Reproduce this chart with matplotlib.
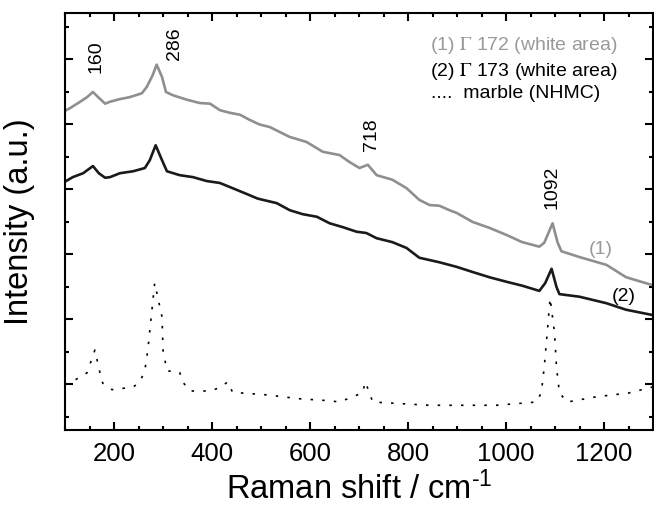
import matplotlib
matplotlib.use("Agg")
import matplotlib.pyplot as plt
from matplotlib.ticker import MultipleLocator

plt.rcParams["font.family"] = ["Liberation Sans", "DejaVu Sans"]
plt.rcParams["mathtext.fontset"] = "custom"
plt.rcParams["mathtext.rm"] = "Liberation Sans"
plt.rcParams["mathtext.it"] = "Liberation Sans:italic"

# (1) G172 white area - gray
wn1 = [100, 110, 131, 145, 157, 169, 182, 192, 212, 232, 257, 267, 279, 287, 298,
       306, 320, 349, 375, 396, 416, 436, 457, 477, 497, 518, 558, 593, 626, 660,
       681, 701, 718, 736, 768, 797, 823, 844, 864, 885, 899, 932, 966, 1001, 1033,
       1068, 1078, 1095, 1105, 1113, 1150, 1205, 1245, 1298]
int1 = [5.21, 5.25, 5.35, 5.42, 5.50, 5.41, 5.32, 5.35, 5.39, 5.42, 5.48, 5.58, 5.76,
        5.92, 5.73, 5.50, 5.45, 5.38, 5.33, 5.32, 5.22, 5.18, 5.15, 5.07, 5.00, 4.96,
        4.81, 4.73, 4.58, 4.53, 4.42, 4.33, 4.38, 4.22, 4.15, 4.02, 3.84, 3.76, 3.75,
        3.68, 3.64, 3.50, 3.41, 3.30, 3.19, 3.12, 3.18, 3.48, 3.19, 3.05, 2.96, 2.84,
        2.65, 2.53]

# (2) G173 white area - black
wn2 = [100, 116, 137, 157, 169, 182, 192, 212, 239, 263, 273, 285, 298, 308, 334,
       361, 389, 416, 442, 471, 493, 504, 532, 559, 585, 614, 640, 667, 695, 715,
       736, 768, 797, 823, 864, 899, 932, 966, 1001, 1033, 1068, 1080, 1093, 1103,
       1109, 1150, 1205, 1245, 1298]
int2 = [4.12, 4.19, 4.25, 4.36, 4.25, 4.18, 4.19, 4.25, 4.28, 4.33, 4.45, 4.68, 4.45,
        4.28, 4.22, 4.19, 4.13, 4.10, 4.02, 3.93, 3.86, 3.84, 3.79, 3.68, 3.62, 3.58,
        3.48, 3.42, 3.35, 3.33, 3.25, 3.19, 3.10, 2.95, 2.88, 2.81, 2.73, 2.65, 2.58,
        2.52, 2.44, 2.56, 2.78, 2.50, 2.39, 2.35, 2.25, 2.15, 2.07]

# marble (NHMC) - dotted
wn3 = [100, 114, 145, 161, 171, 177, 196, 239, 253, 263, 269, 283, 298, 300, 308, 334,
       340, 355, 395, 416, 432, 442, 512, 579, 640, 660, 707, 713, 728, 844, 980, 1062,
       1072, 1078, 1084, 1090, 1099, 1103, 1109, 1125, 1184, 1251, 1298]
int3 = [1.00, 1.04, 1.18, 1.53, 1.19, 1.02, 0.92, 0.96, 1.04, 1.22, 1.53, 2.56, 2.04,
        1.53, 1.21, 1.19, 1.04, 0.90, 0.90, 0.95, 1.04, 0.88, 0.84, 0.78, 0.75, 0.73,
        0.87, 1.04, 0.73, 0.68, 0.68, 0.73, 0.87, 1.27, 1.79, 2.33, 1.79, 1.27, 0.87,
        0.73, 0.81, 0.87, 0.96]

peak_labels = ["160", "286", "718", "1092"]
peak_x = [163, 324, 726, 1093]
peak_y = [6.04, 6.24, 4.84, 4.04]

gray = "#8f8f8f"

fig = plt.figure(figsize=(6.54, 5.07), dpi=100)
ax = fig.add_axes([0.0994, 0.1519, 0.8991, 0.8225])

ax.plot(wn1, int1, color=gray, lw=1.9)
ax.plot(wn2, int2, color="#1a1a1a", lw=1.9)
ax.plot(wn3, int3, color="black", lw=1.2, linestyle=(0, (1.5, 5.5)))

for lab, x, y in zip(peak_labels, peak_x, peak_y):
    ax.text(x, y, lab, rotation=90, ha="center", va="center", fontsize=14)

ax.text(844, 6.22, r"(1) $\Gamma$ 172 (white area)", color="#9a9a9a", fontsize=14,
        va="center", math_fontfamily="stix")
ax.text(844, 5.82, r"(2) $\Gamma$ 173 (white area)", color="black", fontsize=14,
        va="center", math_fontfamily="stix")
ax.text(846, 5.47, "....  marble (NHMC)", color="black", fontsize=14, va="center")

ax.text(1194, 3.07, "(1)", color="#9a9a9a", fontsize=14, ha="center", va="center")
ax.text(1241, 2.35, "(2)", color="black", fontsize=14, ha="center", va="center")

ax.set_xlim(100, 1300)
ax.set_ylim(0.3, 6.715)
ax.xaxis.set_major_locator(MultipleLocator(200))
ax.xaxis.set_minor_locator(MultipleLocator(50))
ax.yaxis.set_major_locator(MultipleLocator(1))
ax.yaxis.set_minor_locator(MultipleLocator(0.5))
ax.tick_params(which="both", direction="in", top=True, right=True, width=1.5)
ax.tick_params(which="major", length=6)
ax.tick_params(which="minor", length=3)
ax.tick_params(axis="x", labelsize=18.5, pad=9)
ax.tick_params(axis="y", labelleft=False)
for s in ax.spines.values():
    s.set_linewidth(1.5)

ax.set_xlabel(r"Raman shift / cm$^{\text{-}1}$", fontsize=23.5, labelpad=4)
ax.set_ylabel("Intensity (a.u.)", fontsize=23.5, labelpad=18)

fig.savefig("out.png", dpi=100)
plt.close("all")
